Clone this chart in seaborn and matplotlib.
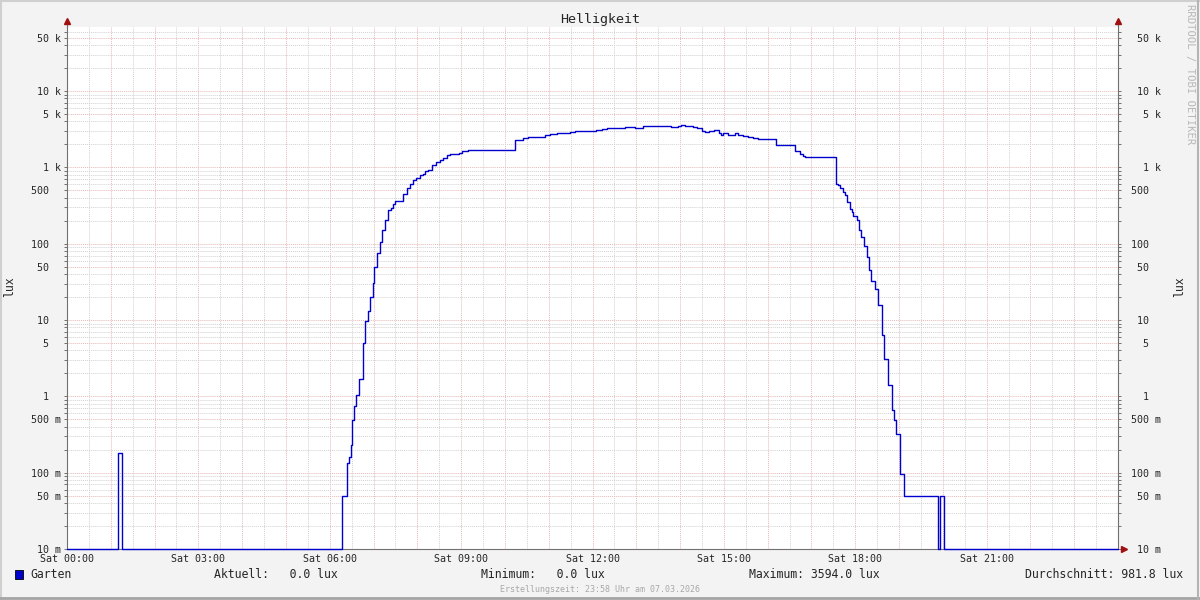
import numpy as np
import pandas as pd
import matplotlib
matplotlib.use("Agg")
import matplotlib.pyplot as plt
from matplotlib.patches import Rectangle
from matplotlib.lines import Line2D
from matplotlib.transforms import offset_copy
import seaborn as sns

# Garten: Stunde, ab der der Wert gilt, und Helligkeit in lux
hours = [0.0, 1.17, 1.26, 6.27, 6.40, 6.44, 6.48, 6.51, 6.55, 6.61, 6.67, 6.77, 6.80,
         6.87, 6.93, 6.98, 7.02, 7.08, 7.15, 7.19, 7.26, 7.32, 7.39, 7.45, 7.50, 7.68,
         7.77, 7.83, 7.89, 7.98, 8.06, 8.12, 8.17, 8.25, 8.33, 8.42, 8.52, 8.59, 8.67,
         8.74, 8.96, 9.01, 9.16, 10.23, 10.42, 10.53, 10.91, 11.03, 11.18, 11.48, 11.60,
         12.09, 12.21, 12.32, 12.55, 12.74, 12.97, 13.16, 13.50, 13.62, 13.80, 13.96,
         14.03, 14.11, 14.30, 14.38, 14.49, 14.56, 14.66, 14.77, 14.88, 14.94, 14.98,
         15.10, 15.17, 15.25, 15.33, 15.44, 15.56, 15.67, 15.78, 16.20, 16.24, 16.62,
         16.74, 16.81, 16.85, 17.57, 17.61, 17.65, 17.71, 17.76, 17.82, 17.88, 17.92,
         17.95, 18.03, 18.09, 18.14, 18.20, 18.26, 18.32, 18.37, 18.45, 18.52, 18.60,
         18.66, 18.75, 18.83, 18.88, 18.94, 19.03, 19.11, 19.89, 19.94, 20.02, 24.0]
lux = [0, 0.18, 0, 0.05, 0.135, 0.16, 0.23, 0.49, 0.75, 1.04, 1.67, 5.0, 9.7,
       13, 20, 31, 50, 75, 105, 150, 203, 275, 290, 336, 362, 454,
       543, 613, 677, 735, 787, 829, 897, 935, 1065, 1176, 1238, 1343, 1439,
       1484, 1544, 1626, 1711, 2314, 2430, 2480, 2634, 2716, 2780, 2870, 2980,
       3070, 3170, 3230, 3290, 3390, 3230, 3430, 3500, 3430, 3330, 3500,
       3594, 3460, 3390, 3290, 2980, 2920, 3010, 3070, 2780, 2690, 2780,
       2690, 2634, 2780, 2634, 2540, 2500, 2430, 2330, 1990, 1950, 1640,
       1517, 1410, 1385, 613, 580, 530, 475, 430, 355, 288, 260,
       229, 203, 150, 122, 92, 66, 45.6, 32, 25.7, 15.6, 6.3,
       3.1, 1.39, 0.66, 0.49, 0.32, 0.097, 0.05, 0, 0.05, 0, 0]

x_label_hours = [0, 3, 6, 9, 12, 15, 18, 21]
x_labels = ["Sat 00:00", "Sat 03:00", "Sat 06:00", "Sat 09:00",
            "Sat 12:00", "Sat 15:00", "Sat 18:00", "Sat 21:00"]
y_ticks = [0.01, 0.05, 0.1, 0.5, 1, 5, 10, 50, 100, 500, 1e3, 5e3, 1e4, 5e4]
y_labels = ["10 m", "50 m", "100 m", "500 m", "1  ", "5  ", "10  ", "50  ",
            "100  ", "500  ", "1 k", "5 k", "10 k", "50 k"]

legend_name = "Garten"
legend_stats = ["Aktuell:   0.0 lux", "Minimum:   0.0 lux",
                "Maximum: 3594.0 lux", "Durchschnitt: 981.8 lux"]

Y_MIN, Y_MAX = 0.01, 69000
LINE = "#0000cc"
MGRID = "#e8b8b8"
GRID = "#d2d2d2"
AXIS = "#707070"
ARROW = "#a01010"

assert len(hours) == len(lux)

sns.set_style("white")
plt.rcParams["font.family"] = ["DejaVu Sans Mono"]

fig = plt.figure(figsize=(12, 6), dpi=100, facecolor="#f3f3f3")
ax = fig.add_axes([67 / 1200, 51 / 600, 1051 / 1200, 522 / 600])
ax.set_facecolor("white")
ax.set_yscale("log")

df = pd.DataFrame({"stunde": hours, "lux": np.clip(lux, Y_MIN, None)})
sns.lineplot(data=df, x="stunde", y="lux", ax=ax, color=LINE, linewidth=1.0,
             drawstyle="steps-post", estimator=None, sort=False, clip_on=False, zorder=5)

ax.set_xlim(0, 24)
ax.set_ylim(Y_MIN, Y_MAX)
ax.set_xlabel("")
ax.set_ylabel("")

# x: Stundenraster rot, halbe Stunden grau, Beschriftung alle 3 Stunden
ax.set_xticks(range(24))
ax.set_xticklabels([x_labels[x_label_hours.index(h)] if h in x_label_hours else "" for h in range(24)])
ax.set_xticks(np.arange(0.5, 24, 1.0), minor=True)

# y: 1 und 5 je Dekade rot, sonst grau
ax.set_yticks(y_ticks)
ax.set_yticklabels(y_labels)
minor_y = [m * 10.0 ** e for e in range(-2, 5) for m in (2, 3, 4, 6, 7, 8, 9)]
minor_y = [v for v in minor_y if v < Y_MAX]
ax.set_yticks(minor_y, minor=True)
ax.yaxis.set_minor_formatter(plt.NullFormatter())

dots = (0, (1, 1))
ax.grid(which="major", color=MGRID, linestyle=dots, linewidth=0.7, zorder=1)
ax.grid(which="minor", color=GRID, linestyle=dots, linewidth=0.7, zorder=1)
ax.set_axisbelow(True)

for side in ("left", "bottom", "right"):
    ax.spines[side].set_color(AXIS)
    ax.spines[side].set_linewidth(0.8)
ax.spines["top"].set_visible(False)

ax.tick_params(axis="y", which="both", direction="out", length=2, width=0.7,
               color=AXIS, left=True, right=True, labelleft=True, labelright=True,
               labelsize=7.2, pad=2.5)
ax.tick_params(axis="x", which="major", direction="out", length=2, width=0.7,
               color="#c06060", labelsize=7.2, pad=1.5)
ax.tick_params(axis="x", which="minor", direction="out", length=2, width=0.7, color="#a0a0a0")

fig.canvas.draw()
# rechte Beschriftung rechtsbuendig bei x = 1161 px
for t in ax.yaxis.get_major_ticks():
    t.label2.set_horizontalalignment("right")
    t.label2.set_transform(offset_copy(ax.get_yaxis_transform(which="tick2"), fig=fig,
                                       x=43 * 72 / 100, y=0, units="points"))

# Pfeile an den Achsenenden
for xa, ya, mk, dx, dy in [(0, 1, "^", 0, 4), (1, 1, "^", 0, 4), (1, 0, ">", 4, 0)]:
    tr = offset_copy(ax.transAxes, fig=fig, x=dx, y=dy, units="points")
    ax.plot([xa], [ya], marker=mk, markersize=4.5, color=ARROW, transform=tr,
            clip_on=False, zorder=6)
ax.plot([0, 0], [1, 1.006], color=AXIS, lw=0.8, transform=ax.transAxes, clip_on=False)
ax.plot([1, 1], [1, 1.006], color=AXIS, lw=0.8, transform=ax.transAxes, clip_on=False)

# Titel, Achsentitel, Legende
fig.text(0.5, 1 - 19 / 600, "Helligkeit", ha="center", va="center", fontsize=9.6)
fig.text(10 / 1200, 1 - 287 / 600, "lux", rotation=90, ha="center", va="center", fontsize=8.3)
fig.text(1180 / 1200, 1 - 287 / 600, "lux", rotation=90, ha="center", va="center", fontsize=8.3)
fig.text(1190 / 1200, 1 - 4 / 600, "RRDTOOL / TOBI OETIKER", rotation=270, ha="center",
         va="top", fontsize=7.6, color="#b8b8b8")

ly = 1 - 575 / 600
fig.patches.append(Rectangle((15 / 1200, 1 - 579 / 600), 8 / 1200, 9 / 600,
                             transform=fig.transFigure, facecolor=LINE,
                             edgecolor="#000000", linewidth=0.6))
fig.text(30 / 1200, ly, legend_name, ha="left", va="center", fontsize=8.3)
for xs, s in zip([214, 481, 749], legend_stats[:3]):
    fig.text(xs / 1200, ly, s, ha="left", va="center", fontsize=8.3)
fig.text(1183 / 1200, ly, legend_stats[3], ha="right", va="center", fontsize=8.3)
fig.text(0.5, 1 - 590 / 600, "Erstellungszeit: 23:58 Uhr am 07.03.2026", ha="center",
         va="center", fontsize=6.0, color="#a8a8a8")

# Rahmen
fig.lines.append(Line2D([0, 1], [0.998, 0.998], transform=fig.transFigure, color="#cfcfcf", lw=1.5))
fig.lines.append(Line2D([0.001, 0.001], [0, 1], transform=fig.transFigure, color="#cfcfcf", lw=1.5))
fig.lines.append(Line2D([0, 1], [0.003, 0.003], transform=fig.transFigure, color="#a4a4a4", lw=2))
fig.lines.append(Line2D([0.9985, 0.9985], [0, 1], transform=fig.transFigure, color="#b4b4b4", lw=1.5))

fig.savefig("out.png", dpi=100, facecolor=fig.get_facecolor())
